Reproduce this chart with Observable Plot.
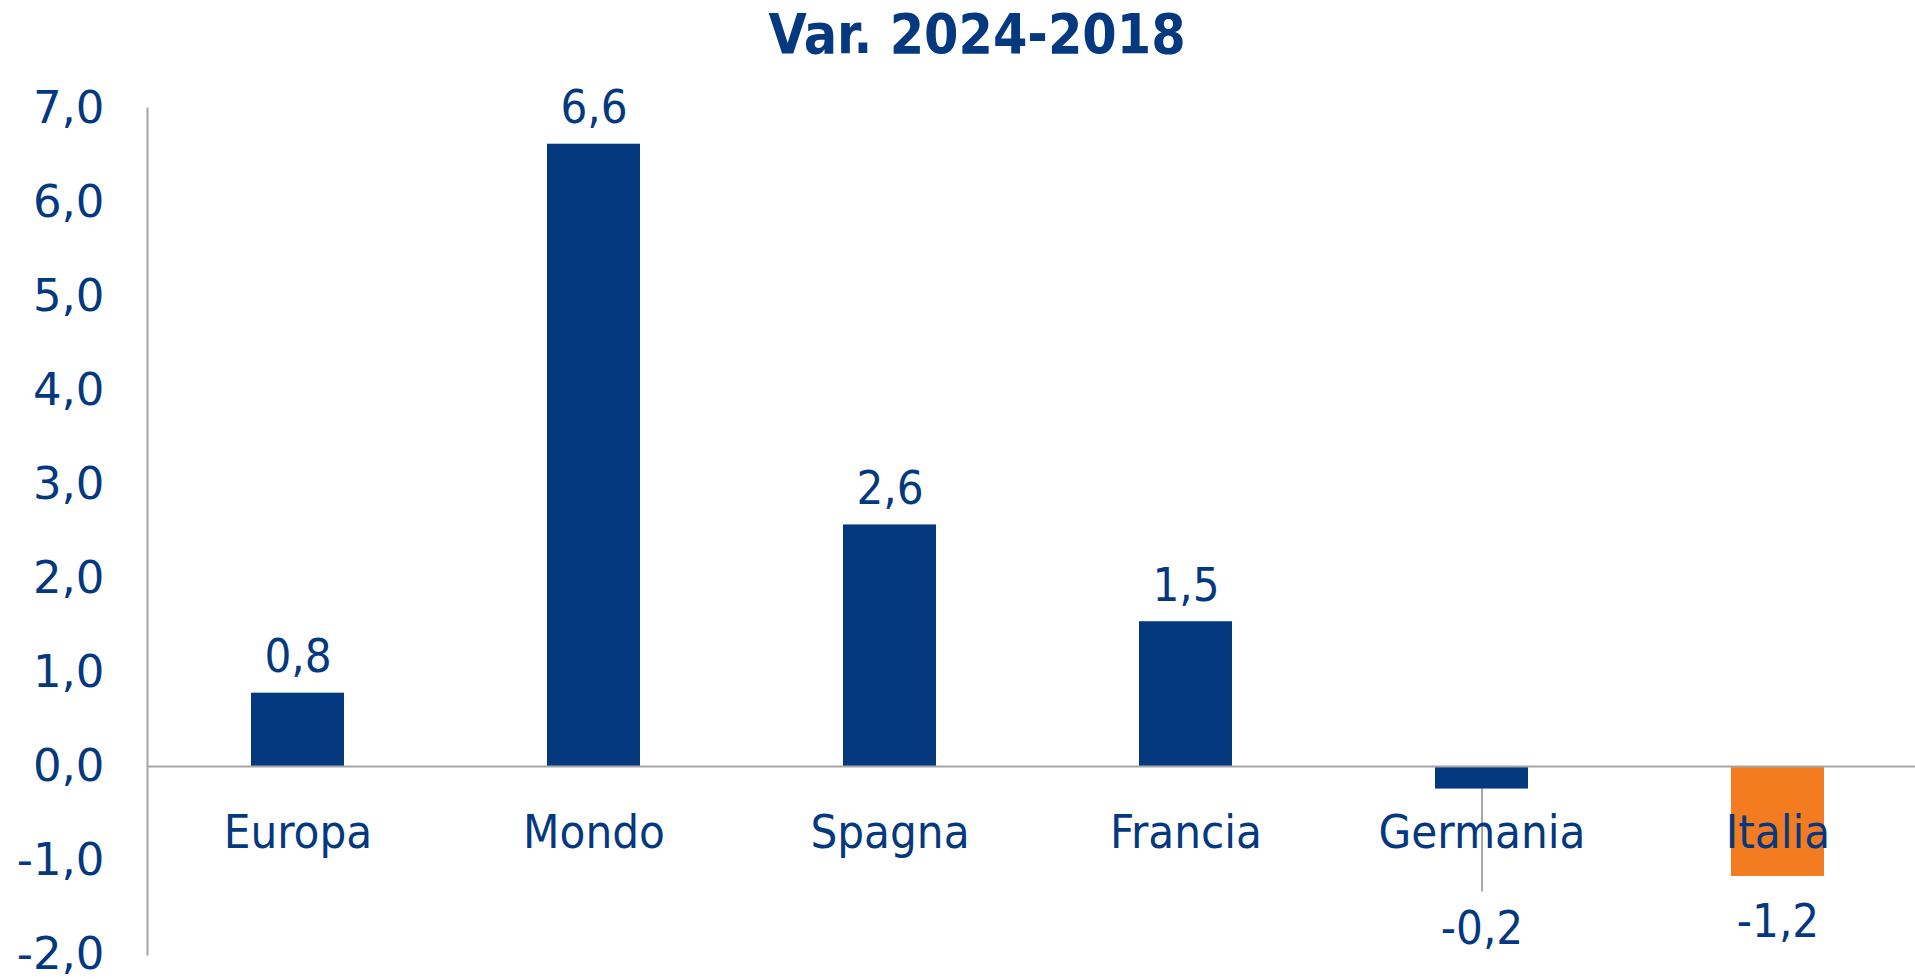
<!DOCTYPE html>
<html>
<head>
<meta charset="utf-8">
<script src="https://cdn.jsdelivr.net/npm/d3@7"></script>
<script src="https://cdn.jsdelivr.net/npm/@observablehq/plot@0.6"></script>
<style>
  html, body { margin: 0; padding: 0; background: #ffffff; }
  #wrap { position: relative; width: 1915px; height: 979px; overflow: hidden; }
  #title {
    position: absolute; top: 5px; left: 0; width: 1954px; text-align: center;
    font-family: "DejaVu Sans Condensed", "DejaVu Sans", sans-serif; font-stretch: condensed;
    font-weight: bold; font-size: 55px; line-height: 58px; color: #04387F;
  }
  #chart { position: absolute; top: 80px; left: 0; }
</style>
</head>
<body>
<div id="wrap">
  <div id="title"></div>
  <div id="chart"></div>
</div>
<script>
const title = "Var. 2024-2018";
const categories = ["Europa", "Mondo", "Spagna", "Francia", "Germania", "Italia"];
const values = [0.78, 6.62, 2.57, 1.54, -0.24, -1.17];
const highlight = "Italia";
const yTicks = [-2, -1, 0, 1, 2, 3, 4, 5, 6, 7];

const navy = "#04387F";
const orange = "#F37B20";
const grey = "#A6A6A6";
const fmt = v => v.toFixed(1).replace(".", ",");

document.getElementById("title").textContent = title;

const data = categories.map((c, i) => ({cat: c, value: values[i]}));
const pos = data.filter(d => d.value >= 0);
const neg = data.filter(d => d.value < 0);
const labelDy = {Germania: 140, Italia: 45};
const leader = data.filter(d => d.cat === "Germania");

const chart = Plot.plot({
  width: 1915,
  height: 899,
  marginLeft: 147,
  marginRight: 0,
  marginTop: 28,
  marginBottom: 25,
  x: {domain: categories, range: [147, 1928], paddingInner: 0.687, paddingOuter: 0.3435, axis: null},
  y: {domain: [-2, 7], axis: null},
  color: {type: "identity"},
  style: {background: "#ffffff", overflow: "visible"},
  marks: [
    Plot.frame({anchor: "left", stroke: grey, strokeWidth: 2}),
    Plot.ruleX(leader, {x: "cat", y1: () => 0, y2: "value", insetBottom: -103, stroke: grey, strokeWidth: 2}),
    Plot.barY(data, {x: "cat", y: "value", fill: d => d.cat === highlight ? orange : navy}),
    Plot.ruleY([0], {stroke: grey, strokeWidth: 2}),
    Plot.text(yTicks, {
      y: d => d, frameAnchor: "left", dx: -43, textAnchor: "end", text: fmt,
      fontSize: 45, fill: navy, fontFamily: "DejaVu Sans"
    }),
    Plot.text(data, {
      x: "cat", y: () => 0, dy: 66, text: "cat",
      fontSize: 47, fill: navy, fontFamily: "DejaVu Sans Condensed"
    }),
    Plot.text(pos, {
      x: "cat", y: "value", dy: -36, text: d => fmt(d.value),
      fontSize: 47, fill: navy, fontFamily: "DejaVu Sans Condensed"
    }),
    ...neg.map(d => Plot.text([d], {
      x: "cat", y: "value", dy: labelDy[d.cat], text: e => fmt(e.value),
      fontSize: 47, fill: navy, fontFamily: "DejaVu Sans Condensed"
    }))
  ]
});
document.getElementById("chart").appendChild(chart);
</script>
</body>
</html>
